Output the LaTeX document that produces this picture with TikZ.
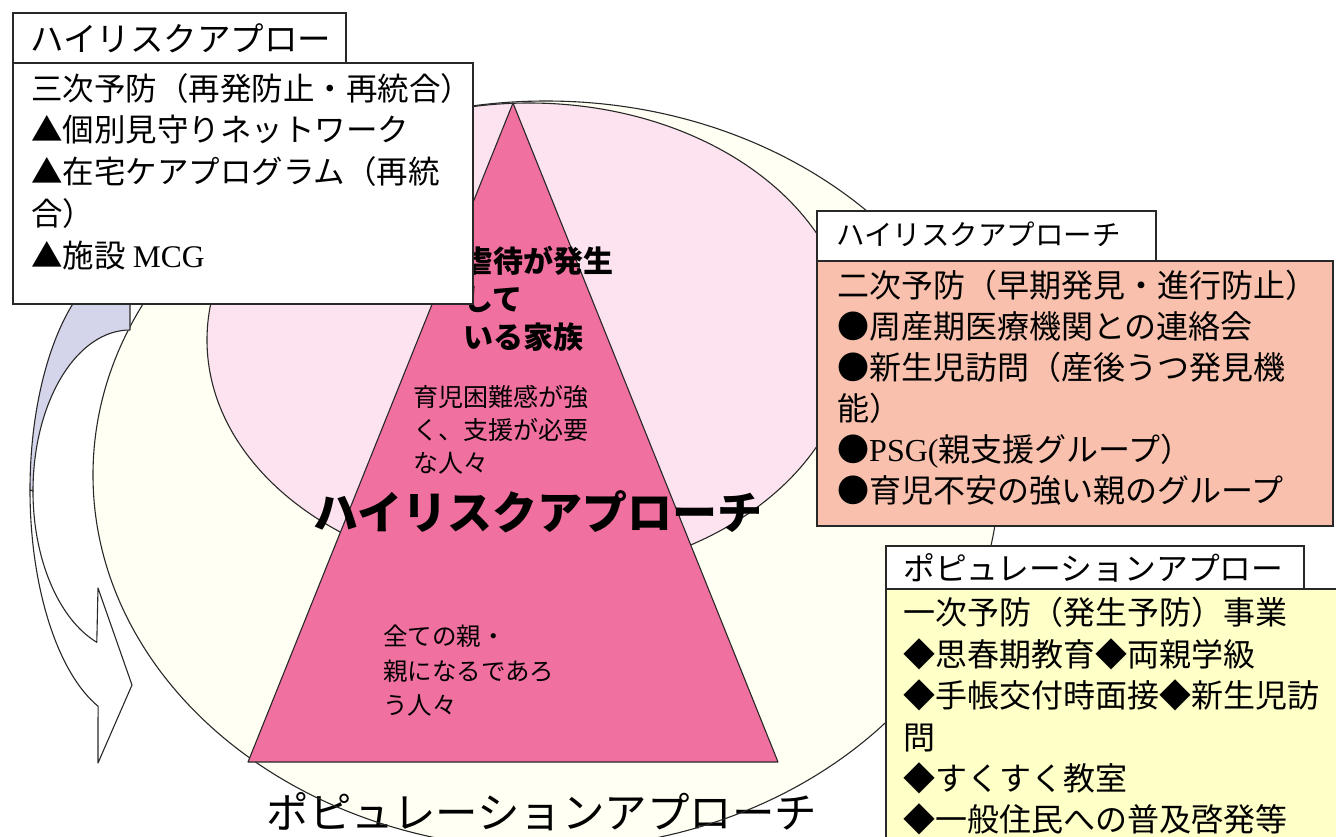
\documentclass[tikz,border=0pt]{standalone}
\usepackage{fontspec}
\newfontfamily\jp{Noto Sans CJK JP}
\newfontfamily\lat{Liberation Serif}
\newcommand{\myfs}[2]{\fontsize{#1}{#2}\selectfont}
\definecolor{creamC}{RGB}{255,255,243}
\definecolor{pinkC}{RGB}{252,227,239}
\definecolor{triC}{RGB}{240,112,160}
\definecolor{lavC}{RGB}{212,212,234}
\definecolor{salmonC}{RGB}{249,193,173}
\definecolor{yelC}{RGB}{255,255,200}
\definecolor{lineC}{RGB}{40,40,40}
\tikzset{
  edge/.style={draw=lineC, line width=1.1pt, line join=round},
  box/.style={draw=lineC, line width=1.5pt, inner sep=0pt, anchor=north west},
  lbl/.style={inner sep=0pt, anchor=west, align=left},
}
\begin{document}
\begin{tikzpicture}[x=1pt,y=-1pt]
\useasboundingbox (0,0) rectangle (1336,836);
\clip (0,0) rectangle (1336,836);
\fill[white] (0,0) rectangle (1336,836);

% population circle
\fill[creamC] (546,475) ellipse [x radius=453pt, y radius=374pt];
\node[inner sep=0pt, font=\jp\myfs{42.5}{48}] (poplabel) at (542,812) {ポピュレーションアプローチ};
\draw[edge, fill=none] (546,475) ellipse [x radius=453pt, y radius=374pt];

% high-risk circle
\draw[edge, fill=pinkC] (529,340) ellipse [x radius=322pt, y radius=237pt];

% pyramid
\draw[edge, fill=triC] (513,103) -- (778,762) -- (248,762) -- cycle;

% texts in pyramid
\node[lbl, font=\jp\bfseries\myfs{30}{38}] (abuse) at (463,299) {虐待が発生\\して\\いる家族};
\node[lbl, font=\jp\myfs{25}{33}] (hard) at (413,430) {育児困難感が強\\く、支援が必要\\な人々};
\node[lbl, font=\jp\myfs{24.5}{34.5}] (allpar) at (383,671) {全ての親・\\親になるであろ\\う人々};
\node[inner sep=0pt, font=\jp\bfseries\myfs{45}{50}] (hrlabel) at (538,512) {ハイリスクアプローチ};

% curved arrow
\draw[edge, fill=lavC] (130,273) -- (130,330)
  arc[start angle=90, end angle=180, x radius=97pt, y radius=161pt]
  -- (30,490)
  arc[start angle=180, end angle=110, x radius=105pt, y radius=231pt] -- cycle;
\draw[edge, fill=white] (30,490)
  arc[start angle=180, end angle=249.4, x radius=105pt, y radius=231pt]
  -- (98,763) -- (132,685) -- (98,588) -- (96.8,642.3)
  arc[start angle=250, end angle=180, x radius=97pt, y radius=161pt] -- cycle;

% top-left boxes
\node[box, fill=white, minimum width=333pt, minimum height=50pt] (tlT) at (12,12) {};
\node[lbl, font=\jp\myfs{33.5}{40}] (tlTt) at (30,38) {ハイリスクアプロー};
\node[box, fill=white, minimum width=460pt, minimum height=241pt] (tlC) at (12,62) {};
\node[lbl, font=\jp\myfs{31.5}{41.75}] (tlCt) at (31,171.5) {三次予防（再発防止・再統合）\\▲個別見守りネットワーク\\▲在宅ケアプログラム（再統\\合）\\▲施設 {\lat MCG}};

% right (secondary) boxes
\node[box, fill=white, minimum width=339pt, minimum height=50pt] (rT) at (816,210) {};
\node[lbl, font=\jp\myfs{28.5}{36}] (rTt) at (836,234) {ハイリスクアプローチ};
\node[box, fill=salmonC, minimum width=516pt, minimum height=265pt] (rC) at (816,260) {};
\node[lbl, font=\jp\myfs{32}{41}] (rCt) at (837,387.5) {二次予防（早期発見・進行防止）\\●周産期医療機関との連絡会\\●新生児訪問（産後うつ発見機\\能）\\●{\lat PSG(}親支援グループ）\\●育児不安の強い親のグループ};

% population boxes
\node[box, fill=white, minimum width=418pt, minimum height=43pt] (pT) at (885,545) {};
\node[lbl, font=\jp\myfs{31.8}{40}] (pTt) at (903,568) {ポピュレーションアプロー};
\node[box, fill=yelC, minimum width=460pt, minimum height=260pt] (pC) at (885,588) {};
\node[lbl, font=\jp\myfs{32}{41.4}] (pCt) at (903,716.5) {一次予防（発生予防）事業\\◆思春期教育◆両親学級\\◆手帳交付時面接◆新生児訪\\問\\◆すくすく教室\\◆一般住民への普及啓発等};
\end{tikzpicture}
\end{document}
